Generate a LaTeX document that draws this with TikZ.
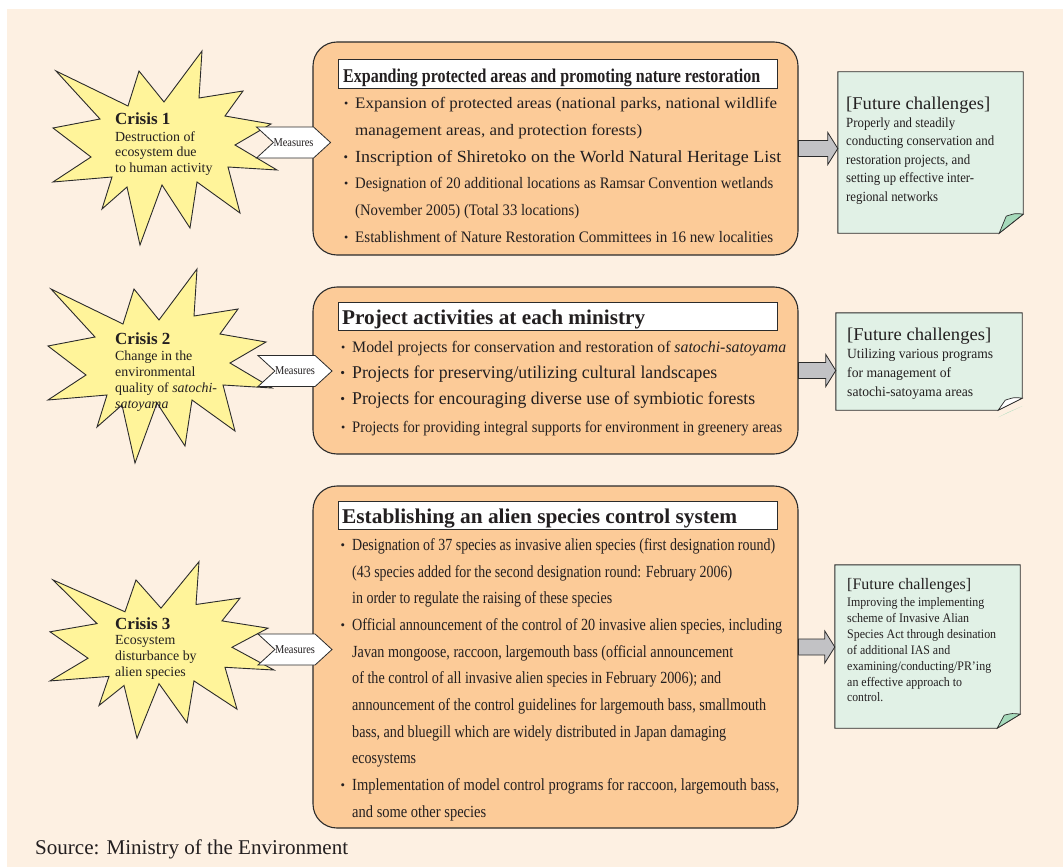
\documentclass[tikz,border=0pt]{standalone}
\usepackage{fontspec}
\setmainfont{Liberation Serif}
\usepackage{graphicx}
\usetikzlibrary{calc,shapes.symbols}
\definecolor{bgcream}{HTML}{FDF0E2}
\definecolor{orangefill}{HTML}{FCCB98}
\definecolor{staryellow}{HTML}{FFF49A}
\definecolor{notegreen}{HTML}{E1F1E6}
\definecolor{flapgreen}{HTML}{A6DABB}
\definecolor{arrowgray}{HTML}{C2C2C5}
\definecolor{linecol}{HTML}{2B2B2B}
\definecolor{txt}{HTML}{231F20}
\newcommand\fsz[1]{\fontsize{#1}{#1}\selectfont}
\newcommand\fitw[2]{\setbox0=\hbox{#2}\pgfmathsetmacro\myratio{#1/\the\wd0}\scalebox{\myratio}[1]{\box0}}
\newcommand\bul{\llap{\raisebox{0.12ex}{\scalebox{0.75}{\textbullet}}\hspace{7pt}}}
\begin{document}
\begin{tikzpicture}[x=1pt,y=-1pt,
  tl/.style={anchor=base west,inner sep=0pt,text=txt},
  obox/.style={draw=linecol,line width=1.1pt,fill=orangefill,rounded corners=24pt,inner sep=0pt,minimum width=485pt},
  tbox/.style={draw=linecol,line width=0.8pt,fill=white,inner sep=0pt,minimum width=439pt},
  starsh/.style={draw=linecol,line width=0.9pt,fill=staryellow,line join=miter},
  meas/.style={signal,signal to=east,signal from=west,signal pointer angle=85,draw=linecol,line width=0.8pt,fill=white,inner sep=0pt,minimum width=74pt,minimum height=31pt},
  note/.style={draw=linecol,line width=0.9pt,fill=notegreen,line join=miter},
  flap/.style={draw=linecol,line width=0.7pt,fill=flapgreen},
  garrow/.style={draw=linecol,line width=0.8pt,fill=arrowgray,line join=miter}]
\fill[white] (0,0) rectangle (1063,867);
\fill[bgcream] (7,9) rectangle (1063,867);
\useasboundingbox (0,0) rectangle (1063,867);

% stars
\foreach \sx/\sy/\sc in {165/148/1, 160/366/1, 162/650/0.91}{
  \draw[starsh, shift={(\sx,\sy)}, yscale=\sc]
   (-109,-77) -- (-37,-42) -- (-26,-77) -- (-1,-46) -- (37,-97) -- (34,-50)
   -- (78,-57) -- (60,-32) -- (106,-24) -- (70,-3) -- (112,22) -- (63,19)
   -- (75,65) -- (32,34) -- (25,80) -- (-3,37) -- (-25,97) -- (-38,39)
   -- (-63,61) -- (-53,29) -- (-112,34) -- (-74,9) -- (-112,-20) -- (-65,-29) -- cycle;
}
\node[tl,font=\bfseries\fsz{17}] (s1t) at (115,124.3) {Crisis 1};
\node[tl,font=\fsz{13.9}] (s1a) at (115,141.7) {Destruction of};
\node[tl,font=\fsz{13.9}] (s1b) at (115,156.7) {ecosystem due};
\node[tl,font=\fsz{13.9}] (s1c) at (115,172.7) {to human activity};

\node[tl,font=\bfseries\fsz{17}] (s2t) at (115,344) {Crisis 2};
\node[tl,font=\fsz{13.9}] (s2a) at (115,360.7) {Change in the};
\node[tl,font=\fsz{13.9}] (s2b) at (115,376) {environmental};
\node[tl,font=\fsz{13.9}] (s2c) at (115,392.7) {quality of \textit{satochi-}};
\node[tl,font=\fsz{13.9}] (s2d) at (115,408.3) {\textit{satoyama}};

\node[tl,font=\bfseries\fsz{17}] (s3t) at (115,629) {Crisis 3};
\node[tl,font=\fsz{13.9}] (s3a) at (115,644.3) {Ecosystem};
\node[tl,font=\fsz{13.9}] (s3b) at (115,660.7) {disturbance by};
\node[tl,font=\fsz{13.9}] (s3c) at (115,676.7) {alien species};

% orange boxes
\node[obox,minimum height=213pt] (box1) at (555.5,148.5) {};
\node[obox,minimum height=167pt] (box2) at (555.5,370.5) {};
\node[obox,minimum height=342pt] (box3) at (555.5,657) {};

\node[tbox,minimum height=29pt] (t1) at (557.5,73.5) {};
\node[tbox,minimum height=28pt] (t2) at (557.5,316) {};
\node[tbox,minimum height=28pt] (t3) at (557.5,515) {};
\node[tl,font=\bfseries\fsz{19.5}] (t1x) at (343,82) {\fitw{417}{Expanding protected areas and promoting nature restoration}};
\node[tl,font=\bfseries\fsz{21}] (t2x) at (342,324) {\fitw{303}{Project activities at each ministry}};
\node[tl,font=\bfseries\fsz{21}] (t3x) at (342,523) {\fitw{395}{Establishing an alien species control system}};

% box 1 text
\node[tl,font=\fsz{16}] (b1a) at (355,108) {\bul\fitw{422}{Expansion of protected areas (national parks, national wildlife}};
\node[tl,font=\fsz{16}] (b1b) at (355,135) {\fitw{287}{management areas, and protection forests)}};
\node[tl,font=\fsz{17}] (b1c) at (355,162.5) {\bul\fitw{426}{Inscription of Shiretoko on the World Natural Heritage List}};
\node[tl,font=\fsz{16}] (b1d) at (355,188.5) {\bul\fitw{418}{Designation of 20 additional locations as Ramsar Convention wetlands}};
\node[tl,font=\fsz{16}] (b1e) at (355,215.5) {\fitw{224}{(November 2005) (Total 33 locations)}};
\node[tl,font=\fsz{16}] (b1f) at (355,242) {\bul\fitw{418}{Establishment of Nature Restoration Committees in 16 new localities}};

% box 2 text
\node[tl,font=\fsz{16}] (b2a) at (352,352.5) {\bul\fitw{434}{Model projects for conservation and restoration of \textit{satochi-satoyama}}};
\node[tl,font=\fsz{18}] (b2b) at (352,378.5) {\bul\fitw{365}{Projects for preserving/utilizing cultural landscapes}};
\node[tl,font=\fsz{18}] (b2c) at (352,404.5) {\bul\fitw{403}{Projects for encouraging diverse use of symbiotic forests}};
\node[tl,font=\fsz{16}] (b2d) at (352,432.5) {\bul\fitw{430}{Projects for providing integral supports for environment in greenery areas}};

% box 3 text
\node[tl,font=\fsz{17}] (b3a) at (352,550.5) {\bul\fitw{423}{Designation of 37 species as invasive alien species (first designation round)}};
\node[tl,font=\fsz{17}] (b3b) at (352,577.5) {\fitw{380}{(43 species added for the second designation round: February 2006)}};
\node[tl,font=\fsz{17}] (b3c) at (352,603.5) {\fitw{260}{in order to regulate the raising of these species}};
\node[tl,font=\fsz{17}] (b3d) at (352,630.5) {\bul\fitw{430}{Official announcement of the control of 20 invasive alien species, including}};
\node[tl,font=\fsz{17}] (b3e) at (352,657.5) {\fitw{381}{Javan mongoose, raccoon, largemouth bass (official announcement}};
\node[tl,font=\fsz{17}] (b3f) at (352,683.5) {\fitw{369}{of the control of all invasive alien species in February 2006); and}};
\node[tl,font=\fsz{17}] (b3g) at (352,710.5) {\fitw{414}{announcement of the control guidelines for largemouth bass, smallmouth}};
\node[tl,font=\fsz{17}] (b3h) at (352,737.5) {\fitw{374}{bass, and bluegill which are widely distributed in Japan damaging}};
\node[tl,font=\fsz{17}] (b3i) at (352,763.5) {\fitw{64}{ecosystems}};
\node[tl,font=\fsz{17}] (b3j) at (352,790.5) {\bul\fitw{427}{Implementation of model control programs for raccoon, largemouth bass,}};
\node[tl,font=\fsz{17}] (b3k) at (352,817.5) {\fitw{134}{and some other species}};

% challenge notes
\node[minimum width=185pt,minimum height=161pt,inner sep=0pt] (c1) at (930.5,152.5) {};
\node[minimum width=186pt,minimum height=97pt,inner sep=0pt] (c2) at (929,361.5) {};
\node[minimum width=185pt,minimum height=163pt,inner sep=0pt] (c3) at (927.5,646.5) {};
\draw[note] (c1.north west) -- (c1.north east) -- ($(c1.south east)+(0,-19)$) -- ($(c1.south east)+(-24,0)$) -- (c1.south west) -- cycle;
\draw[flap] ($(c1.south east)+(-24,0)$) -- ($(c1.south east)+(0,-19)$) .. controls ($(c1.south east)+(-8,-20)$) .. ($(c1.south east)+(-17,-17)$) -- cycle;
\fill[flapgreen] ($(c2.south east)+(-24,7)$) -- ($(c2.south east)+(0,-4)$) -- ($(c2.south east)+(-14,2)$) -- cycle;
\draw[note] (c2.north west) -- (c2.north east) -- ($(c2.south east)+(0,-12)$) -- ($(c2.south east)+(-24,0)$) -- (c2.south west) -- cycle;
\draw[flap,fill=white] ($(c2.south east)+(-24,0)$) -- ($(c2.south east)+(0,-12)$) .. controls ($(c2.south east)+(-8,-13)$) .. ($(c2.south east)+(-17,-10)$) -- cycle;
\draw[note] (c3.north west) -- (c3.north east) -- ($(c3.south east)+(0,-14)$) -- ($(c3.south east)+(-23,0)$) -- (c3.south west) -- cycle;
\draw[flap] ($(c3.south east)+(-23,0)$) -- ($(c3.south east)+(0,-14)$) .. controls ($(c3.south east)+(-8,-15)$) .. ($(c3.south east)+(-16,-13)$) -- cycle;

\node[tl,font=\fsz{18}] (c1t) at (846,109) {\fitw{144}{[Future challenges]}};
\node[tl,font=\fsz{14}] (c1a) at (846,127) {\fitw{109}{Properly and steadily}};
\node[tl,font=\fsz{14}] (c1b) at (846,145.5) {\fitw{148}{conducting conservation and}};
\node[tl,font=\fsz{14}] (c1c) at (846,164) {\fitw{124}{restoration projects, and}};
\node[tl,font=\fsz{14}] (c1d) at (846,182.5) {\fitw{128}{setting up effective inter-}};
\node[tl,font=\fsz{14}] (c1e) at (846,201) {\fitw{92}{regional networks}};

\node[tl,font=\fsz{18}] (c2t) at (847,340) {\fitw{144}{[Future challenges]}};
\node[tl,font=\fsz{14}] (c2a) at (847,358) {\fitw{146}{Utilizing various programs}};
\node[tl,font=\fsz{14}] (c2b) at (847,377) {\fitw{104}{for management of}};
\node[tl,font=\fsz{14}] (c2c) at (847,396) {\fitw{126}{satochi-satoyama areas}};

\node[tl,font=\fsz{16}] (c3t) at (847,589) {\fitw{124}{[Future challenges]}};
\node[tl,font=\fsz{13}] (c3a) at (847,606.5) {\fitw{137}{Improving the implementing}};
\node[tl,font=\fsz{13}] (c3b) at (847,622.5) {\fitw{122}{scheme of Invasive Alian}};
\node[tl,font=\fsz{13}] (c3c) at (847,638) {\fitw{149}{Species Act through desination}};
\node[tl,font=\fsz{13}] (c3d) at (847,654) {\fitw{103}{of additional IAS and}};
\node[tl,font=\fsz{13}] (c3e) at (847,670) {\fitw{144}{examining/conducting/PR’ing}};
\node[tl,font=\fsz{13}] (c3f) at (847,686) {\fitw{115}{an effective approach to}};
\node[tl,font=\fsz{13}] (c3g) at (847,701.5) {\fitw{36}{control.}};

% gray arrows
\coordinate (e1) at (box1.east -| c1.west);
\coordinate (e2) at (box2.east -| c2.west);
\coordinate (s3) at ($(box3.east)+(0,-10)$);
\coordinate (e3) at (s3 -| c3.west);
\draw[garrow] ($(box1.east)+(0,-8)$) -- ($(e1)+(-10,-8)$) -- ($(e1)+(-10,-16)$) -- (e1) -- ($(e1)+(-10,16)$) -- ($(e1)+(-10,8)$) -- ($(box1.east)+(0,8)$) -- cycle;
\draw[garrow] ($(box2.east)+(0,-8)$) -- ($(e2)+(-10,-8)$) -- ($(e2)+(-10,-16)$) -- (e2) -- ($(e2)+(-10,16)$) -- ($(e2)+(-10,8)$) -- ($(box2.east)+(0,8)$) -- cycle;
\draw[garrow] ($(s3)+(0,-8)$) -- ($(e3)+(-10,-8)$) -- ($(e3)+(-10,-16)$) -- (e3) -- ($(e3)+(-10,16)$) -- ($(e3)+(-10,8)$) -- ($(s3)+(0,8)$) -- cycle;

% measures
\node[meas] (m1) at (293.5,142.5) {\fitw{40}{\fsz{12}\color{txt}Measures}};
\node[meas] (m2) at (295,371) {\fitw{40}{\fsz{12}\color{txt}Measures}};
\node[meas] (m3) at (295,649.5) {\fitw{40}{\fsz{12}\color{txt}Measures}};

% source
\node[tl,font=\fsz{21}] (src) at (35,854) {\fitw{313}{Source: Ministry of the Environment}};
\end{tikzpicture}
\end{document}
